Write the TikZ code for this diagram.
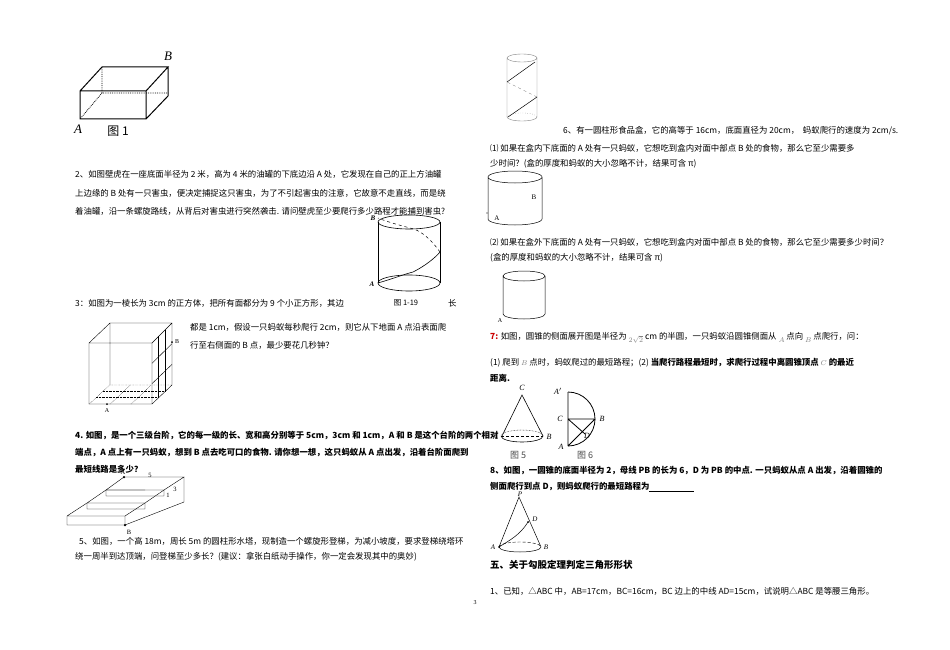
\documentclass[tikz,border=0pt]{standalone}
\usepackage{fontspec}
\setmainfont{Liberation Serif}
\newfontfamily\cjk{Noto Sans CJK SC}
\usetikzlibrary{calc}
\tikzset{
 txt/.style={anchor=west,inner sep=0,font=\cjk\fontsize{8.4}{10}\selectfont},
 btxt/.style={txt,font=\cjk\bfseries\fontsize{8.4}{10}\selectfont},
 lbl/.style={inner sep=0,font=\fontsize{8}{9}\selectfont\itshape},
 fig/.style={line width=0.6pt},
 hid/.style={dashed,line width=0.5pt},
 dot/.style={circle,fill,inner sep=0,minimum size=2.5pt}
}
\begin{document}
\begin{tikzpicture}[x=1pt,y=-1pt]
\useasboundingbox[fill=white] (0,0) rectangle (950,650);
% ---------- figure 1: box
\draw[line width=1pt] (80,91) rectangle (146,119) (80,91)--(102,67)--(168,67)--(146,91) (168,67)--(168,96)--(146,119);
\draw[densely dotted,line width=0.8pt] (102,67)--(102,93)--(168,93) (102,93)--(80,119);
\node[lbl,font=\fontsize{13}{13}\selectfont\itshape] (B1) at (168,56) {B};
\node[lbl,font=\fontsize{13}{13}\selectfont\itshape] (A1) at (78,129) {A};
\node[inner sep=0,font=\cjk\fontsize{12}{12}\selectfont] (f1) at (118,131) {图 1};
% ---------- problem 2
\node[txt] (t2a) at (75,174) {2、如图壁虎在一座底面半径为 2 米，高为 4 米的油罐的下底边沿 A 处，它发现在自己的正上方油罐};
\node[txt] (t2b) at (75,193) {上边缘的 B 处有一只害虫，便决定捕捉这只害虫，为了不引起害虫的注意，它故意不走直线，而是绕};
\node[txt] (t2c) at (75,211) {着油罐，沿一条螺旋路线，从背后对害虫进行突然袭击. 请问壁虎至少要爬行多少路程才能捕到害虫?};
\draw[fig] (409,222) ellipse (31 and 7);
\draw[fig] (378,222)--(378,283) (440,222)--(440,283);
\draw[fig] (409,283) ellipse (31 and 8);
\draw[fig] (378,283) .. controls (395,278) and (405,274) .. (413,272) .. controls (425,266) and (435,258) .. (440,252);
\draw[hid] (440,252) .. controls (430,238) and (420,230) .. (410,228) .. controls (395,224) and (385,221) .. (378,218);
\node[lbl,font=\fontsize{7}{8}\selectfont\bfseries\itshape] (B2) at (373,218) {B};
\node[lbl,font=\fontsize{7}{8}\selectfont\bfseries\itshape] (A2) at (372,284) {A};
\node[inner sep=0,font=\cjk\fontsize{7.5}{8}\selectfont] (f119) at (406,303) {图 1-19};
\node[txt] (chang) at (448,303) {长};
% ---------- problem 3
\node[txt] (t3a) at (75,303) {3：如图为一棱长为 3cm 的正方体，把所有面都分为 9 个小正方形，其边};
\node[txt] (t3b) at (190,327) {都是 1cm，假设一只蚂蚁每秒爬行 2cm，则它从下地面 A 点沿表面爬};
\node[txt] (t3c) at (190,345) {行至右侧面的 B 点，最少要花几秒钟？};
\draw[line width=0.4pt] (89,343) rectangle (152,404) (89,343)--(110,323)--(172,323)--(152,343) (172,323)--(172,385)--(152,404) (110,323)--(110,385);
\foreach \i in {1,2}{
 \draw[line width=0.4pt] ($(152,343)!\i/3!(172,323)$)--($(152,404)!\i/3!(172,385)$);
 \draw[line width=0.4pt] ($(152,343)!\i/3!(152,404)$)--($(172,323)!\i/3!(172,385)$);
 \draw[densely dotted,line width=0.4pt] ($(89,404)!\i/3!(152,404)$)--($(110,385)!\i/3!(172,385)$);
 \draw[densely dotted,line width=0.4pt] ($(89,404)!\i/3!(110,385)$)--($(152,404)!\i/3!(172,385)$);}
\draw[densely dotted,line width=0.4pt] (89,404)--(110,385)--(172,385);
\node[dot,minimum size=2pt] (Bc) at (172,342) {};
\node[inner sep=0,font=\fontsize{6}{7}\selectfont] (Bcl) at (177,342) {B};
\node[dot,minimum size=2pt] (Ac) at (107,404) {};
\node[inner sep=0,font=\fontsize{6}{7}\selectfont] (Acl) at (107,411) {A};
% ---------- problem 4
\node[btxt] (t4a) at (75,435) {4. 如图，是一个三级台阶，它的每一级的长、宽和高分别等于 5cm，3cm 和 1cm，\textit{A} 和 \textit{B} 是这个台阶的两个相对};
\node[btxt] (t4b) at (75,452) {端点，\textit{A} 点上有一只蚂蚁，想到 \textit{B} 点去吃可口的食物. 请你想一想，这只蚂蚁从 \textit{A} 点出发，沿着台阶面爬到};
\node[btxt] (t4c) at (75,469) {最短线路是多少？};
\draw[line width=0.4pt] (67,516) rectangle (125,525) (67,516)--(87,503) (125,516)--(145,503);
\draw[line width=0.4pt] (87,503) rectangle (145,509) (87,503)--(106,490) (145,503)--(164,490) (106,490)--(145,490);
\draw[line width=0.4pt] (106,490) rectangle (164,496) (106,490)--(124,477)--(184,477)--(164,490) (184,477)--(184,502)--(125,525);
\node[dot,minimum size=2.5pt] (As) at (124,477) {};
\node[dot,minimum size=2.5pt] (Bs) at (125,525) {};
\node[inner sep=0,font=\fontsize{6.5}{7}\selectfont] (Asl) at (123,472.5) {A};
\node[inner sep=0,font=\fontsize{6.5}{7}\selectfont] (Bsl) at (129,532) {B};
\node[inner sep=0,font=\fontsize{6.5}{7}\selectfont] (s5) at (150,475) {5};
\node[inner sep=0,font=\fontsize{6.5}{7}\selectfont] (s3) at (175,489) {3};
\node[inner sep=0,font=\fontsize{6.5}{7}\selectfont] (s1) at (168,495) {1};
% ---------- problem 5
\node[txt] (t5a) at (79,541) {5、如图，一个高 18m，周长 5m 的圆柱形水塔，现制造一个螺旋形登梯，为减小坡度，要求登梯绕塔环};
\node[txt] (t5b) at (75,557) {绕一周半到达顶端，问登梯至少多长？(建议：拿张白纸动手操作，你一定会发现其中的奥妙)};
% ---------- right top cylinder
\draw[line width=0.4pt,gray] (522,58) ellipse (15 and 4) (507,58)--(507,117) (537,58)--(537,117);
\draw[line width=0.4pt,gray] (507,117) arc (180:0:15 and 4);
\draw[line width=0.4pt,gray,dotted] (507,117) arc (180:360:15 and 4);
\draw[line width=0.5pt] (508,117)--(537,97) (507,82)--(535,62);
\draw[line width=0.4pt,dashed,gray] (537,97)--(507,82);
% ---------- problem 6
\node[txt] (t6) at (563,131) {6、有一圆柱形食品盒，它的高等于 16cm，底面直径为 20cm，\ \ 蚂蚁爬行的速度为 2cm/s.};
\node[txt] (t61a) at (490,148) {⑴ 如果在盒内下底面的 A 处有一只蚂蚁，它想吃到盒内对面中部点 B 处的食物，那么它至少需要多};
\node[txt] (t61b) at (490,164) {少时间？(盒的厚度和蚂蚁的大小忽略不计，结果可含 π)};
\draw[line width=0.5pt] (515,177) ellipse (27 and 6) (488,177)--(488,219) (542,177)--(542,219);
\draw[line width=0.5pt] (488,219) arc (180:0:27 and 6);
\node[inner sep=0,font=\fontsize{7}{8}\selectfont] (B6) at (534,197) {B};
\node[inner sep=0,font=\fontsize{7}{8}\selectfont] (A6) at (497,218) {A};
\node[dot,minimum size=1.3pt] (d6) at (487,213) {};
\node[txt] (t62a) at (490,242) {⑵ 如果在盒外下底面的 A 处有一只蚂蚁，它想吃到盒内对面中部点 B 处的食物，那么它至少需要多少时间？};
\node[txt] (t62b) at (490,258) {(盒的厚度和蚂蚁的大小忽略不计，结果可含 π)};
\draw[line width=0.5pt] (524,276) ellipse (21 and 5) (503,276)--(503,314) (545,276)--(545,314);
\draw[line width=0.5pt] (503,314) arc (180:0:21 and 5);
\node[inner sep=0,font=\fontsize{6}{7}\selectfont] (A6b) at (500,321) {A};
% ---------- problem 7
\node[txt] (t7a) at (490,338) {\textcolor{red!80!black}{\bfseries 7:} 如图，圆锥的侧面展开图是半径为 {\color{gray}\raisebox{-3pt}{\fontsize{7}{8}\selectfont$2\sqrt{2}$}} cm 的半圆，一只蚂蚁沿圆锥侧面从 {\color{gray}\raisebox{-3pt}{\fontsize{7}{8}\selectfont$A$}} 点向 {\color{gray}\raisebox{-3pt}{\fontsize{7}{8}\selectfont$B$}} 点爬行，问：};
\node[txt] (t7b) at (490,363) {(1) 爬到 {\color{gray}\fontsize{7}{8}\selectfont$B$} 点时，蚂蚁爬过的最短路程；(2) {\bfseries 当爬行路程最短时，求爬行过程中离圆锥顶点} {\color{gray}\fontsize{7}{8}\selectfont$C$} {\bfseries 的最近}};
\node[btxt] (t7c) at (490,378) {距离.};
% fig 5
\draw[line width=0.6pt] (502,436)--(522,395)--(543,436);
\draw[line width=0.6pt] (501,436) arc (180:0:21 and 6);
\draw[line width=0.5pt,densely dotted] (501,436) arc (180:360:21 and 6);
\draw[line width=0.4pt,densely dashed] (501,436)--(543,436);
\node[lbl,font=\fontsize{8}{9}\selectfont\itshape] (C5) at (522,388) {C};
\node[lbl,font=\fontsize{8}{9}\selectfont\itshape] (A5) at (495.5,437) {A};
\node[lbl,font=\fontsize{8}{9}\selectfont\itshape] (B5) at (549,437) {B};
\node[inner sep=0,font=\cjk\fontsize{9}{9}\selectfont,gray!60!black] (f5) at (518,455) {图 5};
% fig 6
\coordinate (C6) at (568,419);
\coordinate (Ap) at (568,392);
\coordinate (A6c) at (568,446);
\coordinate (B6c) at (595,419);
\coordinate (D6) at (585,434);
\draw[line width=0.8pt] (Ap)--(A6c) (C6)--(B6c) (C6)--(D6) (A6c)--(B6c);
\draw[line width=0.8pt] (Ap) arc (-90:90:27 and 27);
\node[lbl,font=\fontsize{8}{9}\selectfont\itshape] (Apl) at (558,391) {A$'$};
\node[lbl,font=\fontsize{8}{9}\selectfont\itshape] (C6l) at (560,419) {C};
\node[lbl,font=\fontsize{8}{9}\selectfont\itshape] (B6l) at (602,419) {B};
\node[lbl,font=\fontsize{8}{9}\selectfont\itshape] (D6l) at (587,436) {D};
\node[lbl,font=\fontsize{8}{9}\selectfont\itshape] (A6l) at (561,447) {A};
\node[inner sep=0,font=\cjk\fontsize{9}{9}\selectfont,gray!60!black] (f6) at (585,455) {图 6};
% ---------- problem 8
\node[btxt] (t8a) at (490,471) {8、如图，一圆锥的底面半径为 2，母线 PB 的长为 6，D 为 PB 的中点. 一只蚂蚁从点 A 出发，沿着圆锥的};
\node[btxt] (t8b) at (490,487) {侧面爬行到点 D，则蚂蚁爬行的最短路程为\rule[-1pt]{45pt}{0.4pt}};
\coordinate (P8) at (519,497);
\coordinate (A8) at (499,547);
\coordinate (B8) at (541,547);
\draw[line width=0.5pt] (A8)--(P8)--(B8);
\draw[line width=0.5pt] (A8) arc (180:0:21 and 5);
\draw[line width=0.4pt,densely dashed] (A8) arc (180:360:21 and 5);
\draw[line width=0.5pt] (A8) .. controls (510,540) and (520,535) .. (528,522);
\node[dot,minimum size=2pt] (A8d) at (A8) {};
\node[dot,minimum size=2pt] (D8d) at (528,522) {};
\node[lbl,font=\fontsize{7}{8}\selectfont\itshape] (P8l) at (520,494) {P};
\node[lbl,font=\fontsize{7}{8}\selectfont\itshape] (D8l) at (535,519) {D};
\node[lbl,font=\fontsize{7}{8}\selectfont\itshape] (A8l) at (493,547) {A};
\node[lbl,font=\fontsize{7}{8}\selectfont\itshape] (B8l) at (546,547) {B};
% ---------- section 5
\node[anchor=west,inner sep=0,font=\cjk\bfseries\fontsize{9.5}{11}\selectfont] (h5) at (490,565) {五、关于勾股定理判定三角形形状};
\node[txt] (t51) at (490,591) {1、已知，△ABC 中，AB=17cm，BC=16cm，BC 边上的中线 AD=15cm，试说明△ABC 是等腰三角形。};
\node[inner sep=0,font=\fontsize{6}{7}\selectfont] (pg) at (475,603) {3};
\end{tikzpicture}
\end{document}
